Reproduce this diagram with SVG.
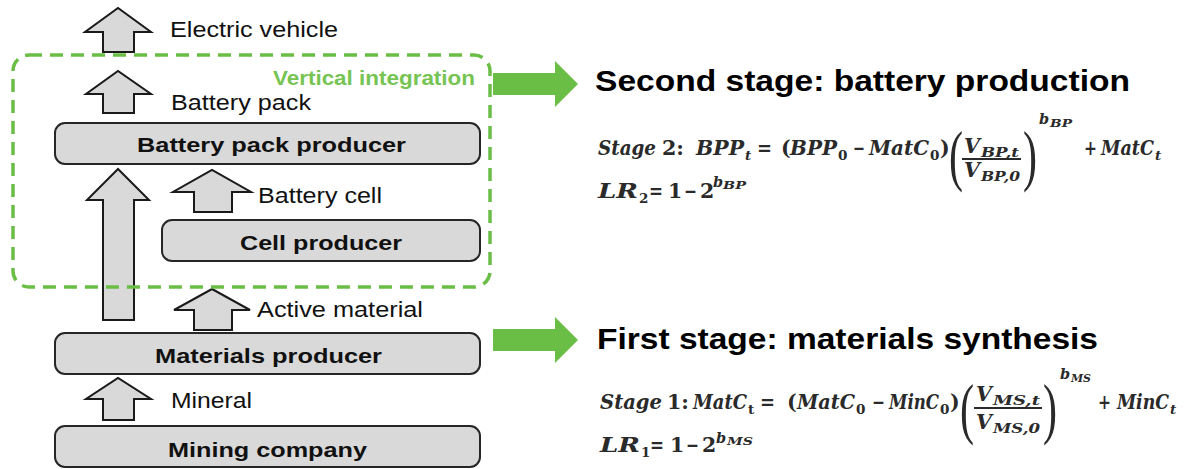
<svg xmlns="http://www.w3.org/2000/svg" width="1195" height="469" viewBox="0 0 1195 469">
<style>
.box{fill:#d9d9d9;stroke:#262626;stroke-width:2}
.arr{fill:#d9d9d9;stroke:#1a1a1a;stroke-width:2}
.garr{fill:#6abd45}
.lbl{font-family:"Liberation Sans",Arial,sans-serif;font-size:22px;fill:#111}
.nl{font-family:"Liberation Sans",Arial,sans-serif;font-size:21px;font-weight:bold;fill:#111}
.hd{font-family:"Liberation Sans",Arial,sans-serif;font-size:30px;font-weight:bold;fill:#000}
.vi{font-family:"Liberation Sans",Arial,sans-serif;font-size:21px;font-weight:bold;fill:#76c453}
.m{font-family:"DejaVu Serif","Liberation Serif",serif;font-weight:bold;font-style:italic;font-size:20.5px;fill:#2a2a2a}
.u{font-style:normal}
.s{font-size:13.5px}
.ss{font-size:12.5px}
.e{font-size:14.5px}
.es{font-size:10.5px}
.par{font-family:"Liberation Serif","Times New Roman",serif;font-size:67px;fill:#2a2a2a}
.bar{stroke:#2a2a2a;stroke-width:1.8}
</style>

<g id="arrows">
<polygon id="arr-ev" class="arr" points="103,52 103,32 85,32 118,8 151,32 134,32 134,52"/>
<polygon id="arr-bp" class="arr" points="103,113 103,94 86,94 118,71 151,94 134,94 134,113"/>
<polygon id="arr-big" class="arr" points="103,320 103,200 87,200 118,169 149,200 134,200 134,320"/>
<polygon id="arr-cell" class="arr" points="194,212 194,192 173,192 212,170 251,192 232,192 232,212"/>
<polygon id="arr-act" class="arr" points="194,330 194,310 174,310 212,289 250,310 232,310 232,330"/>
<polygon id="arr-min" class="arr" points="103,420 103,399 86,399 118,378 151,399 134,399 134,420"/>
<polygon id="garr-2" class="garr" points="493,73 555,73 555,61 578,84 555,107 555,95 493,95"/>
<polygon id="garr-1" class="garr" points="493,329 555,329 555,317 578,340 555,363 555,351 493,351"/>
</g>

<g id="flow-labels">
<text class="lbl" x="170" y="37" textLength="168" lengthAdjust="spacingAndGlyphs">Electric vehicle</text>
<text class="lbl" x="171" y="110" textLength="140" lengthAdjust="spacingAndGlyphs">Battery pack</text>
<text class="lbl" x="258" y="203" textLength="124" lengthAdjust="spacingAndGlyphs">Battery cell</text>
<text class="lbl" x="257" y="317" textLength="166" lengthAdjust="spacingAndGlyphs">Active material</text>
<text class="lbl" x="171" y="408" textLength="81" lengthAdjust="spacingAndGlyphs">Mineral</text>
</g>

<g id="node-bpp">
<rect class="box" x="55" y="123" width="425" height="41" rx="10"/>
<text class="nl" x="137" y="152" textLength="269" lengthAdjust="spacingAndGlyphs">Battery pack producer</text>
</g>
<g id="node-cell">
<rect class="box" x="162" y="220" width="318" height="41" rx="10"/>
<text class="nl" x="240" y="250" textLength="162" lengthAdjust="spacingAndGlyphs">Cell producer</text>
</g>
<g id="node-mat">
<rect class="box" x="55" y="333" width="425" height="41" rx="10"/>
<text class="nl" x="155" y="363" textLength="227" lengthAdjust="spacingAndGlyphs">Materials producer</text>
</g>
<g id="node-mine">
<rect class="box" x="55" y="426" width="425" height="41" rx="10"/>
<text class="nl" x="168" y="457" textLength="199" lengthAdjust="spacingAndGlyphs">Mining company</text>
</g>

<g id="vertical-integration">
<rect x="13" y="55" width="477" height="232" rx="16" fill="none" stroke="#6abd45" stroke-width="3.5" stroke-dasharray="13 8"/>
<text class="vi" x="273" y="85" textLength="202" lengthAdjust="spacingAndGlyphs">Vertical integration</text>
</g>

<g id="stage2">
<text class="hd" x="595" y="91" textLength="535" lengthAdjust="spacingAndGlyphs">Second stage: battery production</text>
<text class="m" x="598" y="155" textLength="58" lengthAdjust="spacingAndGlyphs">Stage</text>
<text class="m u" x="662" y="155" textLength="22" lengthAdjust="spacingAndGlyphs">2:</text>
<text class="m" x="696" y="155" textLength="48" lengthAdjust="spacingAndGlyphs">BPP</text>
<text class="m s" x="745" y="160">t</text>
<text class="m u" x="757" y="155" textLength="15" lengthAdjust="spacingAndGlyphs">=</text>
<text class="m u" x="781" y="155">(</text>
<text class="m" x="790" y="155" textLength="47" lengthAdjust="spacingAndGlyphs">BPP</text>
<text class="m u s" x="838" y="160">0</text>
<text class="m u" x="853" y="155" textLength="12" lengthAdjust="spacingAndGlyphs">−</text>
<text class="m" x="869" y="155" textLength="60" lengthAdjust="spacingAndGlyphs">MatC</text>
<text class="m u s" x="930" y="160">0</text>
<text class="m u" x="940" y="155">)</text>
<text class="par" x="949" y="178" textLength="14" lengthAdjust="spacingAndGlyphs">(</text>
<text class="m" x="964" y="153">V</text>
<text class="m ss" x="981" y="157" textLength="38" lengthAdjust="spacingAndGlyphs">BP,t</text>
<line class="bar" x1="962" y1="159" x2="1021" y2="159"/>
<text class="m" x="964" y="177">V</text>
<text class="m ss" x="981" y="181" textLength="39" lengthAdjust="spacingAndGlyphs">BP,0</text>
<text class="par" x="1023" y="178" textLength="14" lengthAdjust="spacingAndGlyphs">)</text>
<text class="m e" x="1039" y="124">b</text>
<text class="m es" x="1050" y="127" textLength="22" lengthAdjust="spacingAndGlyphs">BP</text>
<text class="m u" x="1084" y="155" textLength="13" lengthAdjust="spacingAndGlyphs">+</text>
<text class="m" x="1101" y="155" textLength="53" lengthAdjust="spacingAndGlyphs">MatC</text>
<text class="m s" x="1155" y="160">t</text>
<text class="m" x="598" y="198" textLength="40" lengthAdjust="spacingAndGlyphs">LR</text>
<text class="m u s" x="639" y="203">2</text>
<text class="m u" x="649" y="198" textLength="14" lengthAdjust="spacingAndGlyphs">=</text>
<text class="m u" x="668" y="198">1</text>
<text class="m u" x="684" y="198" textLength="13" lengthAdjust="spacingAndGlyphs">−</text>
<text class="m u" x="700" y="198">2</text>
<text class="m e" x="713" y="187">b</text>
<text class="m es" x="723" y="189" textLength="23" lengthAdjust="spacingAndGlyphs">BP</text>
</g>

<g id="stage1">
<text class="hd" x="597" y="349" textLength="501" lengthAdjust="spacingAndGlyphs">First stage: materials synthesis</text>
<text class="m" x="600" y="409" textLength="62" lengthAdjust="spacingAndGlyphs">Stage</text>
<text class="m u" x="667" y="409" textLength="22" lengthAdjust="spacingAndGlyphs">1:</text>
<text class="m" x="693" y="409" textLength="54" lengthAdjust="spacingAndGlyphs">MatC</text>
<text class="m u s" x="748" y="414">t</text>
<text class="m u" x="760" y="409" textLength="15" lengthAdjust="spacingAndGlyphs">=</text>
<text class="m u" x="787" y="409">(</text>
<text class="m" x="797" y="409" textLength="58" lengthAdjust="spacingAndGlyphs">MatC</text>
<text class="m u s" x="856" y="414">0</text>
<text class="m u" x="872" y="409" textLength="13" lengthAdjust="spacingAndGlyphs">−</text>
<text class="m" x="889" y="409" textLength="50" lengthAdjust="spacingAndGlyphs">MinC</text>
<text class="m u s" x="940" y="414">0</text>
<text class="m u" x="950" y="409">)</text>
<text class="par" x="960" y="431" textLength="14" lengthAdjust="spacingAndGlyphs">(</text>
<text class="m" x="976" y="401">V</text>
<text class="m ss" x="993" y="405" textLength="47" lengthAdjust="spacingAndGlyphs">MS,t</text>
<line class="bar" x1="974" y1="408" x2="1042" y2="408"/>
<text class="m" x="976" y="429">V</text>
<text class="m ss" x="993" y="433" textLength="47" lengthAdjust="spacingAndGlyphs">MS,0</text>
<text class="par" x="1043" y="431" textLength="14" lengthAdjust="spacingAndGlyphs">)</text>
<text class="m e" x="1060" y="379">b</text>
<text class="m es" x="1071" y="382" textLength="20" lengthAdjust="spacingAndGlyphs">MS</text>
<text class="m u" x="1098" y="409" textLength="13" lengthAdjust="spacingAndGlyphs">+</text>
<text class="m" x="1117" y="409" textLength="52" lengthAdjust="spacingAndGlyphs">MinC</text>
<text class="m s" x="1170" y="414">t</text>
<text class="m" x="600" y="452" textLength="40" lengthAdjust="spacingAndGlyphs">LR</text>
<text class="m u s" x="641" y="457">1</text>
<text class="m u" x="650" y="452" textLength="14" lengthAdjust="spacingAndGlyphs">=</text>
<text class="m u" x="670" y="452">1</text>
<text class="m u" x="686" y="452" textLength="13" lengthAdjust="spacingAndGlyphs">−</text>
<text class="m u" x="702" y="452">2</text>
<text class="m e" x="716" y="443">b</text>
<text class="m es" x="727" y="445" textLength="26" lengthAdjust="spacingAndGlyphs">MS</text>
</g>
</svg>
